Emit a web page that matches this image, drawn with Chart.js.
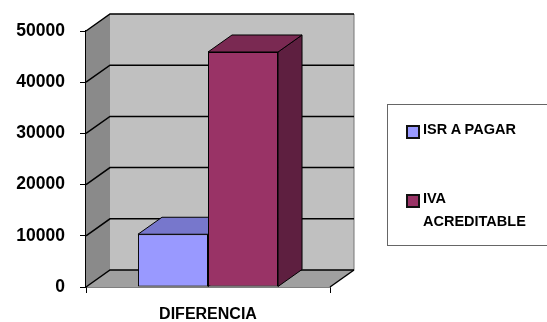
<!DOCTYPE html>
<html>
<head>
<meta charset="utf-8">
<script src="https://cdn.jsdelivr.net/npm/chart.js@4"></script>
<style>
  body { margin: 0; background: #fff; }
  #wrap { position: relative; width: 547px; height: 322px; overflow: hidden; }
  #legend {
    position: absolute; left: 387px; top: 104px; width: 200px; height: 142px;
    border: 1px solid #666; box-sizing: border-box;
    font-family: "Liberation Sans", Arial, sans-serif; font-weight: bold; font-size: 14.5px; color: #000;
  }
  .item { position: absolute; left: 18px; display: flex; align-items: flex-start; }
  .box { width: 10px; height: 10px; border: 2px solid #111; margin-top: 2px; margin-right: 3px; flex: none; }
  .txt { line-height: 23px; margin-top: -5px; }
</style>
</head>
<body>
<div id="wrap">
  <canvas id="c"></canvas>
  <div id="legend"></div>
</div>
<script>
// categorias y series
const categorias = ["DIFERENCIA"];
const isrAPagar = [10300];
const ivaAcreditable = [45900];
const nombresSeries = ["ISR A PAGAR", "IVA ACREDITABLE"];
const lineasLeyenda = [["ISR A PAGAR"], ["IVA", "ACREDITABLE"]];
const coloresFrente = ["#9999FF", "#993366"];
const coloresArriba = ["#7777CC", "#7A2952"];
const coloresLado = ["#6666AA", "#5E1F40"];

// profundidad del efecto 3D
const dx = 24, dy = -17;

function poly(ctx, pts, fill) {
  ctx.beginPath();
  ctx.moveTo(pts[0][0], pts[0][1]);
  for (let i = 1; i < pts.length; i++) ctx.lineTo(pts[i][0], pts[i][1]);
  ctx.closePath();
  if (fill) { ctx.fillStyle = fill; ctx.fill(); }
}

const efecto3d = {
  id: "efecto3d",
  beforeDatasetsDraw(chart) {
    const ctx = chart.ctx;
    const ca = chart.chartArea;
    const y = chart.scales.y;
    ctx.save();
    // pared del fondo
    poly(ctx, [[ca.left + dx, ca.top + dy], [ca.right + dx, ca.top + dy],
               [ca.right + dx, ca.bottom + dy], [ca.left + dx, ca.bottom + dy]], "#C0C0C0");
    // pared lateral
    poly(ctx, [[ca.left, ca.top], [ca.left + dx, ca.top + dy],
               [ca.left + dx, ca.bottom + dy], [ca.left, ca.bottom]], "#8A8A8A");
    // piso
    poly(ctx, [[ca.left, ca.bottom], [ca.left + dx, ca.bottom + dy],
               [ca.right + dx, ca.bottom + dy], [ca.right, ca.bottom]], "#A0A0A0");
    // borde derecho del fondo
    ctx.strokeStyle = "#777";
    ctx.lineWidth = 1;
    ctx.beginPath();
    ctx.moveTo(ca.right + dx, ca.top + dy);
    ctx.lineTo(ca.right + dx, ca.bottom + dy);
    ctx.stroke();
    // lineas de division
    ctx.strokeStyle = "#000";
    ctx.lineWidth = 1.5;
    y.ticks.forEach(t => {
      const py = y.getPixelForValue(t.value);
      ctx.beginPath();
      ctx.moveTo(ca.left, py);
      ctx.lineTo(ca.left + dx, py + dy);
      ctx.lineTo(ca.right + dx, py + dy);
      ctx.stroke();
    });
    ctx.beginPath();
    ctx.moveTo(ca.right, ca.bottom);
    ctx.lineTo(ca.right + dx, ca.bottom + dy);
    ctx.stroke();
    // caras superior y lateral de las barras
    ctx.lineWidth = 1;
    chart.data.datasets.forEach((ds, i) => {
      chart.getDatasetMeta(i).data.forEach(bar => {
        const l = bar.x - bar.width / 2, r = bar.x + bar.width / 2;
        const t = bar.y, b = bar.base;
        poly(ctx, [[r, t], [r + dx, t + dy], [r + dx, b + dy], [r, b]], coloresLado[i]);
        ctx.stroke();
        poly(ctx, [[l, t], [l + dx, t + dy], [r + dx, t + dy], [r, t]], coloresArriba[i]);
        ctx.stroke();
      });
    });
    ctx.restore();
  }
};

new Chart(document.getElementById("c"), {
  type: "bar",
  data: {
    labels: categorias,
    datasets: [
      { label: nombresSeries[0], data: isrAPagar, backgroundColor: coloresFrente[0] },
      { label: nombresSeries[1], data: ivaAcreditable, backgroundColor: coloresFrente[1] }
    ]
  },
  options: {
    responsive: true,
    maintainAspectRatio: false,
    animation: false,
    layout: { padding: { top: 31, right: 217, left: 0, bottom: 0 } },
    datasets: {
      bar: { borderColor: "#000", borderWidth: 1, borderSkipped: false,
             categoryPercentage: 0.574, barPercentage: 1 }
    },
    plugins: {
      legend: { display: false },
      tooltip: { enabled: false }
    },
    scales: {
      x: {
        afterFit: s => { s.height = 35; },
        grid: { drawOnChartArea: false, offset: true, tickLength: 6, color: "#000", lineWidth: 1 },
        border: { color: "#000", width: 1.5 },
        ticks: { color: "#000", padding: 12, font: { family: "Liberation Sans", weight: "bold", size: 16 } }
      },
      y: {
        min: 0, max: 50000,
        afterFit: s => { s.width = 86; },
        grid: { drawOnChartArea: false, tickLength: 6, color: "#000", lineWidth: 1 },
        border: { color: "#000", width: 1.5 },
        ticks: { stepSize: 10000, color: "#000", padding: 15,
                 callback: v => String(v),
                 font: { family: "Liberation Sans", weight: "bold", size: 17.5 } }
      }
    }
  },
  plugins: [efecto3d]
});

// leyenda
const leyenda = document.getElementById("legend");
const tops = [18, 87];
lineasLeyenda.forEach((lineas, i) => {
  const it = document.createElement("div");
  it.className = "item";
  it.style.top = tops[i] + "px";
  const box = document.createElement("div");
  box.className = "box";
  box.style.background = coloresFrente[i];
  const txt = document.createElement("div");
  txt.className = "txt";
  txt.innerHTML = lineas.join("<br>");
  it.appendChild(box);
  it.appendChild(txt);
  leyenda.appendChild(it);
});
</script>
</body>
</html>
